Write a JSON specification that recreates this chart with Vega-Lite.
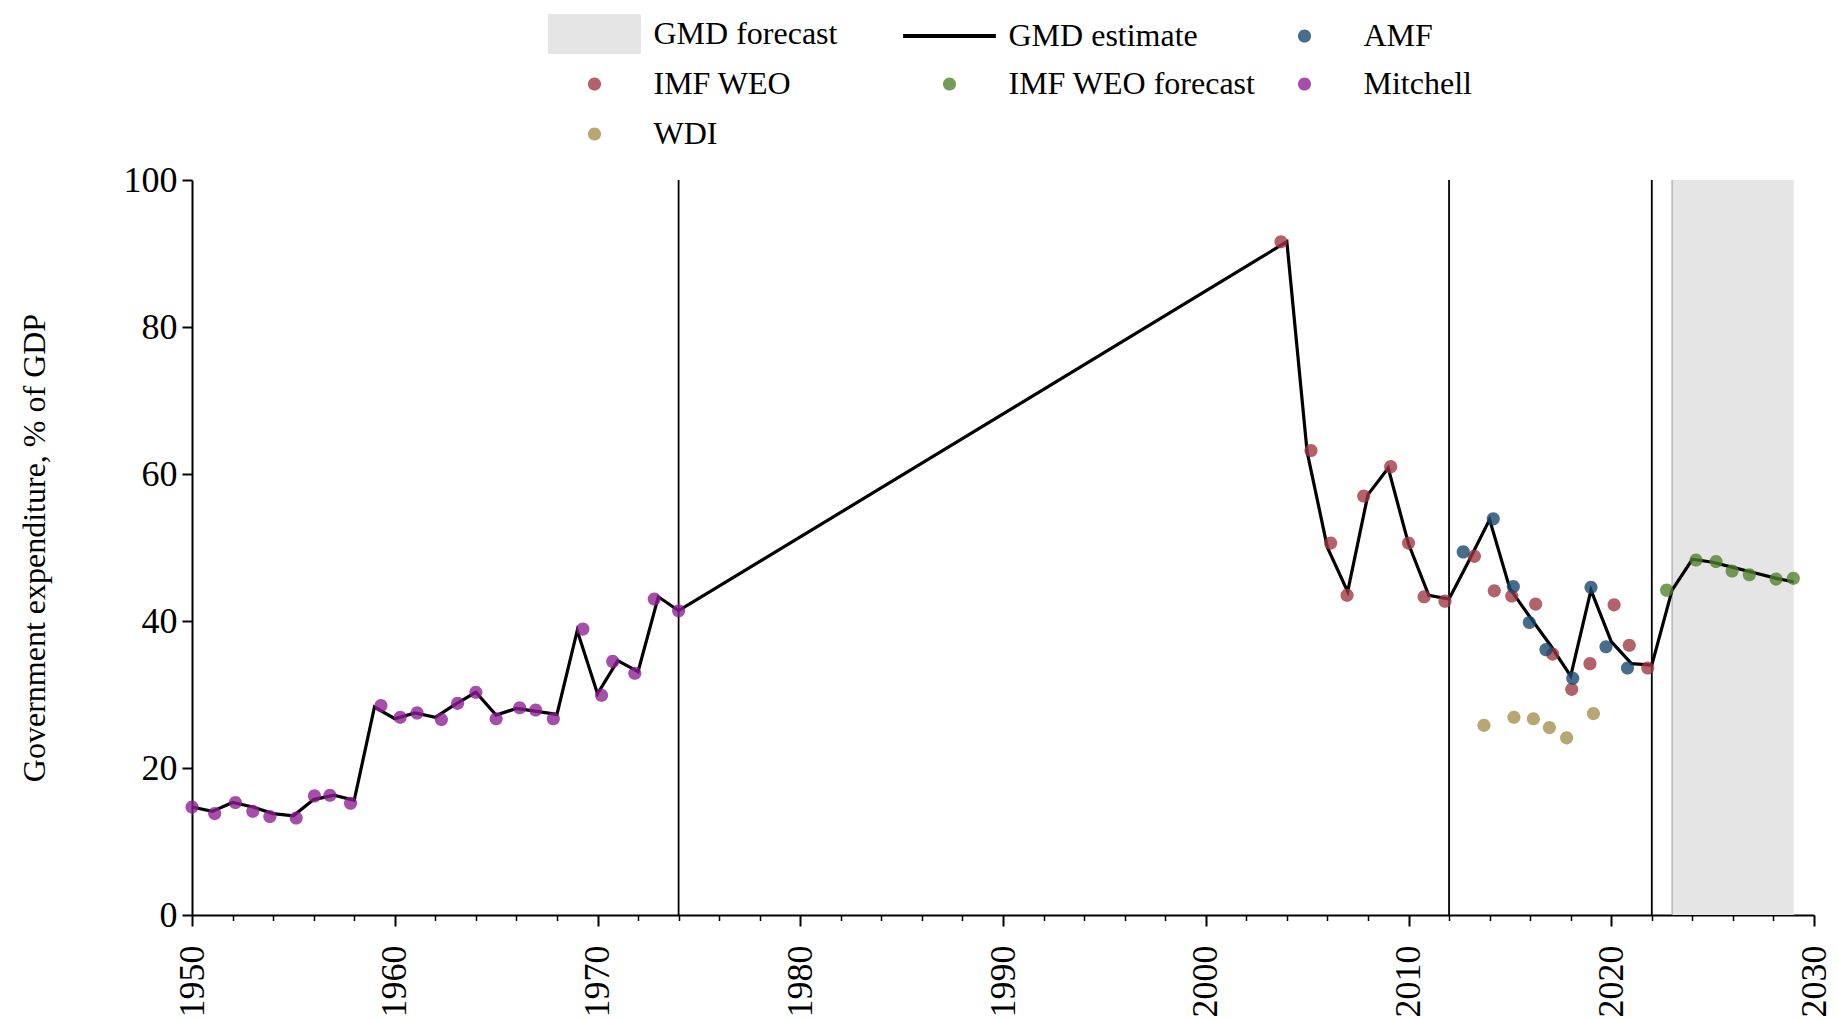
{
  "$schema": "https://vega.github.io/schema/vega-lite/v6.json",
  "width": 1622,
  "height": 735,
  "autosize": {"type": "none"},
  "padding": {"left": 192, "top": 180, "right": 23, "bottom": 104},
  "background": "white",
  "config": {
    "view": {"stroke": null},
    "font": "Liberation Serif",
    "axis": {
      "grid": false,
      "domainColor": "black",
      "domainWidth": 2,
      "tickColor": "black",
      "labelColor": "black",
      "labelFont": "Liberation Serif",
      "titleFont": "Liberation Serif",
      "titleFontWeight": "normal",
      "titleColor": "black"
    }
  },
  "data": {
    "values": [
      {"series": "GMD estimate", "year": 1950, "value": 14.7},
      {"series": "GMD estimate", "year": 1951, "value": 14.1},
      {"series": "GMD estimate", "year": 1952, "value": 15.3},
      {"series": "GMD estimate", "year": 1953, "value": 14.7},
      {"series": "GMD estimate", "year": 1954, "value": 13.8},
      {"series": "GMD estimate", "year": 1955, "value": 13.5},
      {"series": "GMD estimate", "year": 1956, "value": 15.7},
      {"series": "GMD estimate", "year": 1957, "value": 16.3},
      {"series": "GMD estimate", "year": 1958, "value": 15.6},
      {"series": "GMD estimate", "year": 1959, "value": 28.3},
      {"series": "GMD estimate", "year": 1960, "value": 26.7},
      {"series": "GMD estimate", "year": 1961, "value": 27.5},
      {"series": "GMD estimate", "year": 1962, "value": 26.9},
      {"series": "GMD estimate", "year": 1963, "value": 28.7},
      {"series": "GMD estimate", "year": 1964, "value": 30.3},
      {"series": "GMD estimate", "year": 1965, "value": 27.2},
      {"series": "GMD estimate", "year": 1966, "value": 28.1},
      {"series": "GMD estimate", "year": 1967, "value": 27.7},
      {"series": "GMD estimate", "year": 1968, "value": 27.3},
      {"series": "GMD estimate", "year": 1969, "value": 38.7},
      {"series": "GMD estimate", "year": 1970, "value": 30.1},
      {"series": "GMD estimate", "year": 1971, "value": 34.6},
      {"series": "GMD estimate", "year": 1972, "value": 33.1},
      {"series": "GMD estimate", "year": 1973, "value": 43.3},
      {"series": "GMD estimate", "year": 1974, "value": 41.4},
      {"series": "GMD estimate", "year": 2004, "value": 91.6},
      {"series": "GMD estimate", "year": 2005, "value": 63.0},
      {"series": "GMD estimate", "year": 2006, "value": 50.0},
      {"series": "GMD estimate", "year": 2007, "value": 44.0},
      {"series": "GMD estimate", "year": 2008, "value": 57.2},
      {"series": "GMD estimate", "year": 2009, "value": 60.8},
      {"series": "GMD estimate", "year": 2010, "value": 50.5},
      {"series": "GMD estimate", "year": 2011, "value": 43.5},
      {"series": "GMD estimate", "year": 2012, "value": 43.0},
      {"series": "GMD estimate", "year": 2013, "value": 48.3},
      {"series": "GMD estimate", "year": 2014, "value": 53.8},
      {"series": "GMD estimate", "year": 2015, "value": 44.4},
      {"series": "GMD estimate", "year": 2016, "value": 40.5},
      {"series": "GMD estimate", "year": 2017, "value": 36.7},
      {"series": "GMD estimate", "year": 2018, "value": 32.5},
      {"series": "GMD estimate", "year": 2019, "value": 44.2},
      {"series": "GMD estimate", "year": 2020, "value": 37.2},
      {"series": "GMD estimate", "year": 2021, "value": 34.2},
      {"series": "GMD estimate", "year": 2022, "value": 34.0},
      {"series": "GMD estimate", "year": 2023, "value": 44.2},
      {"series": "GMD estimate", "year": 2024, "value": 48.4},
      {"series": "GMD estimate", "year": 2025, "value": 48.0},
      {"series": "GMD estimate", "year": 2026, "value": 47.3},
      {"series": "GMD estimate", "year": 2027, "value": 46.6},
      {"series": "GMD estimate", "year": 2028, "value": 45.9},
      {"series": "GMD estimate", "year": 2029, "value": 45.3},

      {"series": "Mitchell", "year": 1950.0, "value": 14.7},
      {"series": "Mitchell", "year": 1951.12, "value": 13.8},
      {"series": "Mitchell", "year": 1952.14, "value": 15.3},
      {"series": "Mitchell", "year": 1953.0, "value": 14.1},
      {"series": "Mitchell", "year": 1953.84, "value": 13.4},
      {"series": "Mitchell", "year": 1955.14, "value": 13.2},
      {"series": "Mitchell", "year": 1956.04, "value": 16.2},
      {"series": "Mitchell", "year": 1956.8, "value": 16.3},
      {"series": "Mitchell", "year": 1957.82, "value": 15.2},
      {"series": "Mitchell", "year": 1959.32, "value": 28.5},
      {"series": "Mitchell", "year": 1960.27, "value": 26.9},
      {"series": "Mitchell", "year": 1961.1, "value": 27.5},
      {"series": "Mitchell", "year": 1962.3, "value": 26.6},
      {"series": "Mitchell", "year": 1963.1, "value": 28.8},
      {"series": "Mitchell", "year": 1964.0, "value": 30.3},
      {"series": "Mitchell", "year": 1965.0, "value": 26.7},
      {"series": "Mitchell", "year": 1966.16, "value": 28.2},
      {"series": "Mitchell", "year": 1966.95, "value": 27.9},
      {"series": "Mitchell", "year": 1967.82, "value": 26.7},
      {"series": "Mitchell", "year": 1969.28, "value": 38.9},
      {"series": "Mitchell", "year": 1970.2, "value": 29.9},
      {"series": "Mitchell", "year": 1970.75, "value": 34.5},
      {"series": "Mitchell", "year": 1971.84, "value": 32.9},
      {"series": "Mitchell", "year": 1972.8, "value": 43.0},
      {"series": "Mitchell", "year": 1974.0, "value": 41.4},

      {"series": "IMF WEO", "year": 2003.71, "value": 91.6},
      {"series": "IMF WEO", "year": 2005.19, "value": 63.2},
      {"series": "IMF WEO", "year": 2006.16, "value": 50.6},
      {"series": "IMF WEO", "year": 2006.97, "value": 43.5},
      {"series": "IMF WEO", "year": 2007.79, "value": 57.0},
      {"series": "IMF WEO", "year": 2009.12, "value": 61.0},
      {"series": "IMF WEO", "year": 2010.0, "value": 50.6},
      {"series": "IMF WEO", "year": 2010.77, "value": 43.3},
      {"series": "IMF WEO", "year": 2011.8, "value": 42.7},
      {"series": "IMF WEO", "year": 2013.25, "value": 48.8},
      {"series": "IMF WEO", "year": 2014.23, "value": 44.1},
      {"series": "IMF WEO", "year": 2015.09, "value": 43.4},
      {"series": "IMF WEO", "year": 2016.27, "value": 42.3},
      {"series": "IMF WEO", "year": 2017.11, "value": 35.5},
      {"series": "IMF WEO", "year": 2018.05, "value": 30.7},
      {"series": "IMF WEO", "year": 2018.95, "value": 34.2},
      {"series": "IMF WEO", "year": 2020.14, "value": 42.2},
      {"series": "IMF WEO", "year": 2020.89, "value": 36.7},
      {"series": "IMF WEO", "year": 2021.8, "value": 33.6},

      {"series": "AMF", "year": 2012.7, "value": 49.4},
      {"series": "AMF", "year": 2014.18, "value": 53.9},
      {"series": "AMF", "year": 2015.17, "value": 44.7},
      {"series": "AMF", "year": 2015.96, "value": 39.8},
      {"series": "AMF", "year": 2016.78, "value": 36.1},
      {"series": "AMF", "year": 2018.1, "value": 32.2},
      {"series": "AMF", "year": 2019.0, "value": 44.6},
      {"series": "AMF", "year": 2019.74, "value": 36.5},
      {"series": "AMF", "year": 2020.8, "value": 33.6},

      {"series": "WDI", "year": 2013.72, "value": 25.8},
      {"series": "WDI", "year": 2015.2, "value": 26.9},
      {"series": "WDI", "year": 2016.16, "value": 26.7},
      {"series": "WDI", "year": 2016.95, "value": 25.5},
      {"series": "WDI", "year": 2017.8, "value": 24.1},
      {"series": "WDI", "year": 2019.12, "value": 27.4},

      {"series": "IMF WEO forecast", "year": 2022.73, "value": 44.2},
      {"series": "IMF WEO forecast", "year": 2024.18, "value": 48.3},
      {"series": "IMF WEO forecast", "year": 2025.17, "value": 48.1},
      {"series": "IMF WEO forecast", "year": 2025.96, "value": 46.8},
      {"series": "IMF WEO forecast", "year": 2026.81, "value": 46.3},
      {"series": "IMF WEO forecast", "year": 2028.13, "value": 45.7},
      {"series": "IMF WEO forecast", "year": 2028.98, "value": 45.8}
    ]
  },
  "layer": [
    {
      "data": {"values": [{"series": "GMD forecast", "start": 2023, "end": 2029}]},
      "layer": [
        {
          "mark": {"type": "rect", "color": "#e5e5e5"},
          "encoding": {
            "x": {"field": "start", "type": "quantitative", "title": null},
            "x2": {"field": "end"},
            "y": {"datum": 100, "type": "quantitative"},
            "y2": {"datum": 0}
          }
        },
        {
          "mark": {"type": "rule", "color": "#a8a8a8", "strokeWidth": 1.2},
          "encoding": {
            "x": {"field": "start", "type": "quantitative", "title": null}
          }
        }
      ]
    },
    {
      "data": {"values": [{"year": 1974}, {"year": 2012}, {"year": 2022}]},
      "mark": {"type": "rule", "color": "black", "strokeWidth": 1.8},
      "encoding": {
        "x": {"field": "year", "type": "quantitative", "title": null}
      }
    },
    {
      "transform": [{"filter": "datum.series === 'GMD estimate'"}],
      "mark": {"type": "line", "color": "black", "strokeWidth": 3.2},
      "encoding": {
        "x": {
          "field": "year",
          "type": "quantitative",
          "scale": {"domain": [1950, 2030], "nice": false, "zero": false},
          "axis": {
            "title": null,
            "values": [1950,1951,1952,1953,1954,1955,1956,1957,1958,1959,1960,1961,1962,1963,1964,1965,1966,1967,1968,1969,1970,1971,1972,1973,1974,1975,1976,1977,1978,1979,1980,1981,1982,1983,1984,1985,1986,1987,1988,1989,1990,1991,1992,1993,1994,1995,1996,1997,1998,1999,2000,2001,2002,2003,2004,2005,2006,2007,2008,2009,2010,2011,2012,2013,2014,2015,2016,2017,2018,2019,2020,2021,2022,2023,2024,2025,2026,2027,2028,2029,2030],
            "format": "d",
            "labelExpr": "datum.value % 10 === 0 ? datum.label : ''",
            "labelAngle": -90,
            "labelFontSize": 36,
            "labelPadding": 19,
            "labelOverlap": false,
            "labelFlush": false,
            "tickSize": {"condition": {"test": "datum.value % 10 === 0", "value": 11}, "value": 5.5},
            "tickWidth": {"condition": {"test": "datum.value % 10 === 0", "value": 2}, "value": 1.5}
          }
        },
        "y": {
          "field": "value",
          "type": "quantitative",
          "scale": {"domain": [0, 100], "nice": false},
          "axis": {
            "title": "Government expenditure, % of GDP",
            "values": [0, 20, 40, 60, 80, 100],
            "labelFontSize": 36,
            "tickSize": 10,
            "tickWidth": 2,
            "labelPadding": 5,
            "titleFontSize": 32,
            "titlePadding": 72
          }
        }
      }
    },
    {
      "transform": [{"filter": "datum.series !== 'GMD estimate'"}],
      "mark": {"type": "point", "filled": true, "opacity": 1, "size": 1024, "strokeWidth": 0},
      "encoding": {
        "x": {"field": "year", "type": "quantitative"},
        "y": {"field": "value", "type": "quantitative"},
        "color": {
          "field": "series",
          "type": "nominal",
          "scale": {
            "domain": ["GMD forecast", "IMF WEO", "Mitchell", "GMD estimate", "IMF WEO forecast", "WDI", "AMF"],
            "range": ["#e5e5e5", "rgba(158,52,64,0.78)", "rgba(140,30,148,0.78)", "#000000", "rgba(80,128,45,0.78)", "rgba(165,145,80,0.8)", "rgba(26,71,111,0.8)"]
          },
          "legend": {
            "title": null, "orient": "none", "legendX": 356, "legendY": -162,
            "columns": 3, "gridAlign": "all", "columnPadding": 2, "rowPadding": 14,
            "symbolSize": 1024, "symbolOffset": 30.5, "labelOffset": 43,
            "labelFont": "Liberation Serif", "labelFontSize": 32, "labelColor": "black",
            "labelLimit": 500, "symbolStrokeWidth": 0, "padding": 0, "symbolOpacity": 1
          }
        },
        "shape": {
          "field": "series",
          "type": "nominal",
          "scale": {
            "domain": ["GMD forecast", "IMF WEO", "Mitchell", "GMD estimate", "IMF WEO forecast", "WDI", "AMF"],
            "range": [
              "M-2.9,-1.25H2.9V1.25H-2.9Z",
              "M0.41,0A0.41,0.41,0,1,1,-0.41,0A0.41,0.41,0,1,1,0.41,0Z",
              "M0.41,0A0.41,0.41,0,1,1,-0.41,0A0.41,0.41,0,1,1,0.41,0Z",
              "M-2.9,-0.13H2.9V0.13H-2.9Z",
              "M0.41,0A0.41,0.41,0,1,1,-0.41,0A0.41,0.41,0,1,1,0.41,0Z",
              "M0.41,0A0.41,0.41,0,1,1,-0.41,0A0.41,0.41,0,1,1,0.41,0Z",
              "M0.41,0A0.41,0.41,0,1,1,-0.41,0A0.41,0.41,0,1,1,0.41,0Z"
            ]
          },
          "legend": {
            "title": null, "orient": "none", "legendX": 356, "legendY": -162,
            "columns": 3, "gridAlign": "all", "columnPadding": 2, "rowPadding": 14,
            "symbolSize": 1024, "symbolOffset": 30.5, "labelOffset": 43,
            "labelFont": "Liberation Serif", "labelFontSize": 32, "labelColor": "black",
            "labelLimit": 500, "symbolStrokeWidth": 0, "padding": 0, "symbolOpacity": 1
          }
        }
      }
    }
  ]
}
